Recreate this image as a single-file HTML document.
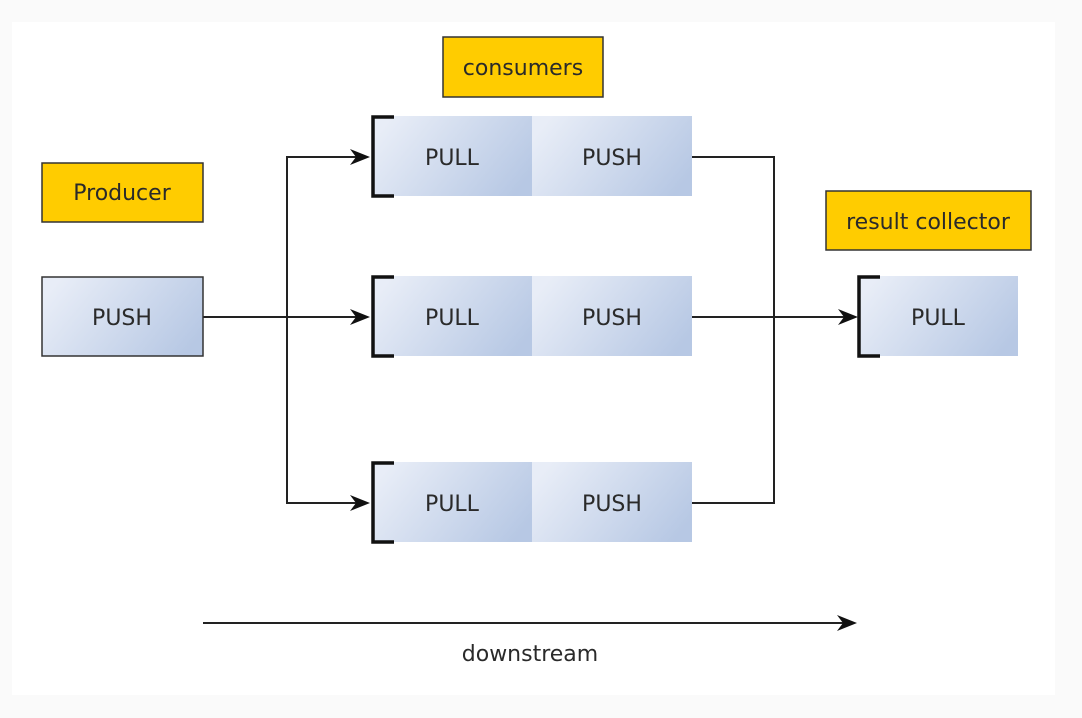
<!DOCTYPE html>
<html><head><meta charset="utf-8"><style>
html,body{margin:0;padding:0;background:#fafafa;width:1082px;height:718px;overflow:hidden}
svg{display:block}
text{font-family:"DejaVu Sans","Liberation Sans",sans-serif;font-size:22px;fill:#2a2a2a}
</style></head><body>
<svg width="1082" height="718" viewBox="0 0 1082 718" xmlns="http://www.w3.org/2000/svg">
<defs>
<linearGradient id="g" x1="0" y1="0.3" x2="1" y2="0.7">
<stop offset="0" stop-color="#e8edf7"/><stop offset="1" stop-color="#b7c8e4"/>
</linearGradient>
<path id="ah" d="M-20,-8 L0,0 L-20,8 L-14,0 Z" fill="#111"/>
</defs>
<rect x="12" y="22" width="1043" height="673" fill="#fff"/>
<g stroke="#222" stroke-width="2" fill="none">
<line x1="203" y1="317" x2="360" y2="317"/>
<polyline points="360,157 287,157 287,503 360,503"/>
<polyline points="692,157 774,157 774,503 692,503"/>
<line x1="692" y1="317" x2="848" y2="317"/>
<line x1="203" y1="623" x2="846" y2="623"/>
</g>
<use href="#ah" x="370" y="157"/>
<use href="#ah" x="370" y="317"/>
<use href="#ah" x="370" y="503"/>
<use href="#ah" x="858" y="317"/>
<use href="#ah" x="857" y="623"/>
<rect x="42" y="163" width="161" height="59" fill="#ffcc00" stroke="#333" stroke-width="1.5"/>
<text x="122" y="200" text-anchor="middle">Producer</text>
<rect x="443" y="37" width="160" height="60" fill="#ffcc00" stroke="#333" stroke-width="1.5"/>
<text x="523" y="75" text-anchor="middle">consumers</text>
<rect x="826" y="191" width="205" height="59" fill="#ffcc00" stroke="#333" stroke-width="1.5"/>
<text x="928" y="229" text-anchor="middle">result collector</text>
<rect x="42" y="277" width="161" height="79" fill="url(#g)" stroke="#333" stroke-width="1.5"/>
<text x="122" y="325" text-anchor="middle">PUSH</text>
<g>
<rect x="373" y="116" width="159" height="80" fill="url(#g)"/><rect x="532" y="116" width="160" height="80" fill="url(#g)"/>
<text x="452" y="165" text-anchor="middle">PULL</text><text x="612" y="165" text-anchor="middle">PUSH</text>
<path d="M394,117 H373 V196 H394" fill="none" stroke="#111" stroke-width="3.5"/>
</g>
<g>
<rect x="373" y="276" width="159" height="80" fill="url(#g)"/><rect x="532" y="276" width="160" height="80" fill="url(#g)"/>
<text x="452" y="325" text-anchor="middle">PULL</text><text x="612" y="325" text-anchor="middle">PUSH</text>
<path d="M394,277 H373 V356 H394" fill="none" stroke="#111" stroke-width="3.5"/>
</g>
<g>
<rect x="373" y="462" width="159" height="80" fill="url(#g)"/><rect x="532" y="462" width="160" height="80" fill="url(#g)"/>
<text x="452" y="511" text-anchor="middle">PULL</text><text x="612" y="511" text-anchor="middle">PUSH</text>
<path d="M394,463 H373 V542 H394" fill="none" stroke="#111" stroke-width="3.5"/>
</g>
<rect x="859" y="276" width="159" height="80" fill="url(#g)"/>
<text x="938" y="325" text-anchor="middle">PULL</text>
<path d="M880,277 H859 V356 H880" fill="none" stroke="#111" stroke-width="3.5"/>
<text x="530" y="661" text-anchor="middle">downstream</text>
</svg>
</body></html>
